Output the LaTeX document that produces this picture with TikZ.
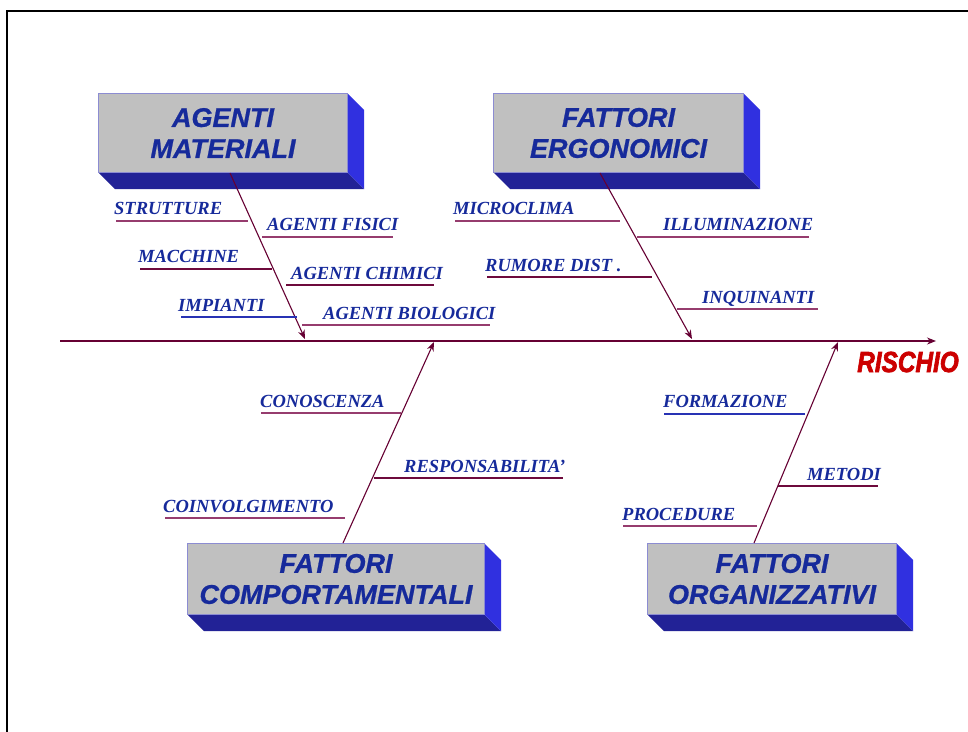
\documentclass[tikz,border=0pt]{standalone}
\usepackage{fontspec}
\setmainfont{Liberation Serif}
\setsansfont{Liberation Sans}
\newfontfamily\riskfont{Liberation Sans}[BoldItalicFeatures={FakeBold=2.5}]
\newfontfamily\boxfont{Liberation Sans}[BoldItalicFeatures={FakeBold=0.8}]
\usetikzlibrary{arrows.meta}

\definecolor{spine}{RGB}{102,0,51}
\definecolor{mauve}{RGB}{150,60,110}
\definecolor{wine}{RGB}{110,10,60}
\definecolor{lineblue}{RGB}{40,50,180}
\definecolor{txtblue}{RGB}{22,42,155}
\definecolor{facegrey}{RGB}{192,192,192}
\definecolor{edgeblue}{RGB}{140,140,210}
\definecolor{sideblue}{RGB}{48,48,224}
\definecolor{bottomblue}{RGB}{34,34,150}
\definecolor{riskred}{RGB}{204,0,0}

\tikzset{
  x=1pt, y=-1pt,
  causebox/.style={draw=edgeblue, line width=1pt, fill=facegrey, inner sep=0pt,
    align=center, text=txtblue,
    font=\boxfont\bfseries\itshape\fontsize{27}{31}\selectfont},
  bone/.style={draw=spine, line width=1.1pt, -{Stealth[length=9pt,width=7pt]}},
  causelabel/.style={anchor=base west, inner sep=0pt, text=txtblue,
    font=\bfseries\itshape\fontsize{18.5}{18.5}\selectfont},
  uline/.style={line width=1.4pt, draw=mauve},
  ulinedark/.style={line width=1.4pt, draw=wine},
  ulineblue/.style={line width=1.4pt, draw=lineblue},
}

% a box with its blue extruded right and bottom faces
\newcommand{\causeblock}[6]{% name, x1, y1, x2, y2, text
  \fill[bottomblue] (#2,#5) -- (#4,#5) -- ++(17,17) -- (#2+17,#5+17) -- cycle;
  \fill[sideblue] (#4,#3) -- ++(17,17) -- (#4+17,#5+17) -- (#4,#5) -- cycle;
  \node[causebox, minimum width=#4-#2, minimum height=#5-#3, anchor=north west]
    (#1) at (#2,#3) {#6};
}

\begin{document}
\begin{tikzpicture}
\useasboundingbox (0,0) rectangle (968,731);
\fill[white] (0,0) rectangle (968,731);

% page frame
\draw[line width=2pt] (7,732) -- (7,11) -- (970,11);

% cause blocks
\causeblock{am}{98}{93}{347}{172}{AGENTI\\MATERIALI}
\causeblock{fe}{493}{93}{743}{172}{FATTORI\\ERGONOMICI}
\causeblock{fc}{187}{543}{484}{614}{FATTORI\\COMPORTAMENTALI}
\causeblock{fo}{647}{543}{896}{614}{FATTORI\\ORGANIZZATIVI}

% main spine
\coordinate (tail) at (60,341);
\coordinate (head) at (936,341);
\draw[bone] (tail) -- (head);
\node[anchor=base, inner sep=0pt, text=riskred] (risk) at (908,372)
  {\scalebox{0.84}[1]{\riskfont\bfseries\itshape\fontsize{29}{29}\selectfont RISCHIO}};

% bones from each block to the spine
\coordinate (jam) at (305,339);
\coordinate (jfe) at (692,339);
\coordinate (jfc) at (434,342);
\coordinate (jfo) at (838,342);
\draw[bone] (am.south -| 230,0) -- (jam);
\draw[bone] (fe.south -| 600,0) -- (jfe);
\draw[bone] (fc.north -| 343,0) -- (jfc);
\draw[bone] (fo.north -| 754,0) -- (jfo);

% AGENTI MATERIALI
\node[causelabel] (strutture) at (114,214) {STRUTTURE};
\draw[uline] (116,221) -- (248,221);
\node[causelabel] (fisici) at (267,230) {AGENTI FISICI};
\draw[uline] (262,237) -- (393,237);
\node[causelabel] (macchine) at (138,262) {MACCHINE};
\draw[ulinedark] (140,269) -- (272,269);
\node[causelabel] (chimici) at (291,279) {AGENTI CHIMICI};
\draw[ulinedark] (286,285) -- (434,285);
\node[causelabel] (impianti) at (178,311) {IMPIANTI};
\draw[ulineblue] (181,317) -- (297,317);
\node[causelabel] (biologici) at (323,319) {AGENTI BIOLOGICI};
\draw[uline] (302,325) -- (490,325);

% FATTORI ERGONOMICI
\node[causelabel] (microclima) at (453,214) {MICROCLIMA};
\draw[uline] (455,221) -- (620,221);
\node[causelabel] (illuminazione) at (663,230) {ILLUMINAZIONE};
\draw[uline] (637,237) -- (809,237);
\node[causelabel] (rumore) at (485,271) {RUMORE DIST .};
\draw[ulinedark] (487,277) -- (652,277);
\node[causelabel] (inquinanti) at (702,303) {INQUINANTI};
\draw[uline] (677,309) -- (818,309);

% FATTORI COMPORTAMENTALI
\node[causelabel] (conoscenza) at (260,407) {CONOSCENZA};
\draw[uline] (261,413) -- (401,413);
\node[causelabel] (responsabilita) at (404,472) {RESPONSABILITA’};
\draw[ulinedark] (374,478) -- (563,478);
\node[causelabel] (coinvolgimento) at (163,512) {COINVOLGIMENTO};
\draw[uline] (165,518) -- (345,518);

% FATTORI ORGANIZZATIVI
\node[causelabel] (formazione) at (663,407) {FORMAZIONE};
\draw[ulineblue] (664,414) -- (805,414);
\node[causelabel] (metodi) at (807,480) {METODI};
\draw[ulinedark] (778,486) -- (878,486);
\node[causelabel] (procedure) at (622,520) {PROCEDURE};
\draw[uline] (623,526) -- (757,526);
\end{tikzpicture}
\end{document}
